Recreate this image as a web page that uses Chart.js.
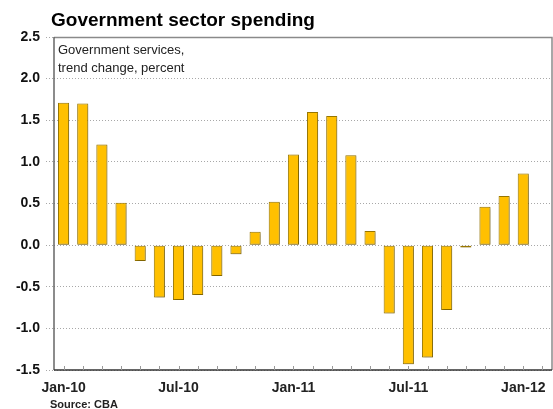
<!DOCTYPE html>
<html>
<head>
<meta charset="utf-8">
<script src="https://cdn.jsdelivr.net/npm/chart.js@4.4.1/dist/chart.umd.min.js"></script>
<style>
  html, body { margin: 0; padding: 0; background: #fff; }
  #wrap { width: 553px; height: 409px; }
</style>
</head>
<body>
<div id="wrap"><canvas id="spendChart" width="553" height="409"></canvas></div>
<script>
// monthly categories, Jan-10 .. Feb-12 (last one has no bar)
const months = ["Jan-10","Feb-10","Mar-10","Apr-10","May-10","Jun-10","Jul-10","Aug-10","Sep-10","Oct-10","Nov-10","Dec-10",
                "Jan-11","Feb-11","Mar-11","Apr-11","May-11","Jun-11","Jul-11","Aug-11","Sep-11","Oct-11","Nov-11","Dec-11",
                "Jan-12","Feb-12"];
const trendChange = [1.71, 1.70, 1.21, 0.51, -0.19, -0.63, -0.66, -0.60, -0.37, -0.11, 0.16, 0.52,
                     1.09, 1.60, 1.55, 1.08, 0.17, -0.82, -1.43, -1.35, -0.78, -0.03, 0.46, 0.59,
                     0.86, null];
const shownLabels = ["Jan-10", "Jul-10", "Jan-11", "Jul-11", "Jan-12"];
const yTicks = [-1.5, -1.0, -0.5, 0.0, 0.5, 1.0, 1.5, 2.0, 2.5];

const FONT = "'Liberation Sans', Arial, Helvetica, sans-serif";

const barShadow = {
    id: "barShadow",
    beforeDatasetDraw(chart) {
        const c = chart.ctx;
        c.save();
        c.shadowColor = "rgba(0,0,0,0.25)";
        c.shadowOffsetX = 1;
        c.shadowOffsetY = 1;
        c.shadowBlur = 2;
    },
    afterDatasetDraw(chart) {
        chart.ctx.restore();
    }
};

const frameAndText = {
    id: "frameAndText",
    afterDraw(chart) {
        const c = chart.ctx;
        const a = chart.chartArea;
        const x = chart.scales.x;

        // frame top / right
        c.save();
        c.strokeStyle = "#8a8a8a";
        c.lineWidth = 1.5;
        c.beginPath();
        c.moveTo(a.left, a.top + 0.5);
        c.lineTo(a.right, a.top + 0.5);
        c.lineTo(a.right, a.bottom);
        c.stroke();

        // left axis
        c.strokeStyle = "#666";
        c.beginPath();
        c.moveTo(a.left, a.top);
        c.lineTo(a.left, a.bottom);
        c.stroke();

        // bottom axis + inside tick marks at bar centres
        c.strokeStyle = "#333";
        c.beginPath();
        c.moveTo(a.left, a.bottom);
        c.lineTo(a.right, a.bottom);
        c.stroke();
        c.strokeStyle = "#999";
        c.lineWidth = 1;
        c.beginPath();
        for (let i = 0; i < months.length; i++) {
            const px = Math.round(x.getPixelForValue(i)) + 0.5;
            c.moveTo(px, a.bottom - 4);
            c.lineTo(px, a.bottom);
        }
        c.stroke();

        // title, note, source
        c.fillStyle = "#000";
        c.textAlign = "left";
        c.textBaseline = "alphabetic";
        c.font = "bold 19px " + FONT;
        c.fillText("Government sector spending", 51, 26);

        c.fillStyle = "#222";
        c.font = "13px " + FONT;
        c.fillText("Government services,", a.left + 4, 54);
        c.fillText("trend change, percent", a.left + 4, 72);

        c.fillStyle = "#222";
        c.font = "bold 11px " + FONT;
        c.fillText("Source: CBA", 50, 408);
        c.restore();
    }
};

new Chart(document.getElementById("spendChart"), {
    type: "bar",
    data: {
        labels: months,
        datasets: [{
            label: "Government services, trend change, percent",
            data: trendChange,
            backgroundColor: "#FFC000",
            borderColor: "#9A7800",
            borderWidth: 1,
            borderSkipped: false,
            barPercentage: 0.58,
            categoryPercentage: 1.0
        }]
    },
    options: {
        responsive: false,
        animation: false,
        layout: { padding: { top: 37, right: 1, left: 0, bottom: 0 } },
        plugins: {
            legend: { display: false },
            title: { display: false },
            tooltip: { enabled: false }
        },
        scales: {
            x: {
                offset: true,
                grid: { display: false },
                border: { display: false },
                afterFit(s) { s.height = 39; },
                ticks: {
                    autoSkip: false,
                    maxRotation: 0,
                    padding: 2,
                    color: "#222",
                    font: { family: FONT, size: 14, weight: "bold" },
                    callback(v) {
                        const l = months[v];
                        return shownLabels.includes(l) ? l : "";
                    }
                }
            },
            y: {
                min: -1.5,
                max: 2.5,
                afterFit(s) { s.width = 54; },
                afterBuildTicks(s) { s.ticks = yTicks.map(v => ({ value: v })); },
                border: { display: false, dash: [1, 2] },
                grid: {
                    color: "#a8a8a8",
                    lineWidth: 1,
                    tickLength: 8,
                    tickColor: "#a8a8a8",
                    tickBorderDash: [1, 2],
                    drawTicks: true
                },
                ticks: {
                    padding: 6,
                    color: "#111",
                    font: { family: FONT, size: 14, weight: "bold" },
                    callback(v) { return Number(v).toFixed(1); }
                }
            }
        }
    },
    plugins: [barShadow, frameAndText]
});
</script>
</body>
</html>
